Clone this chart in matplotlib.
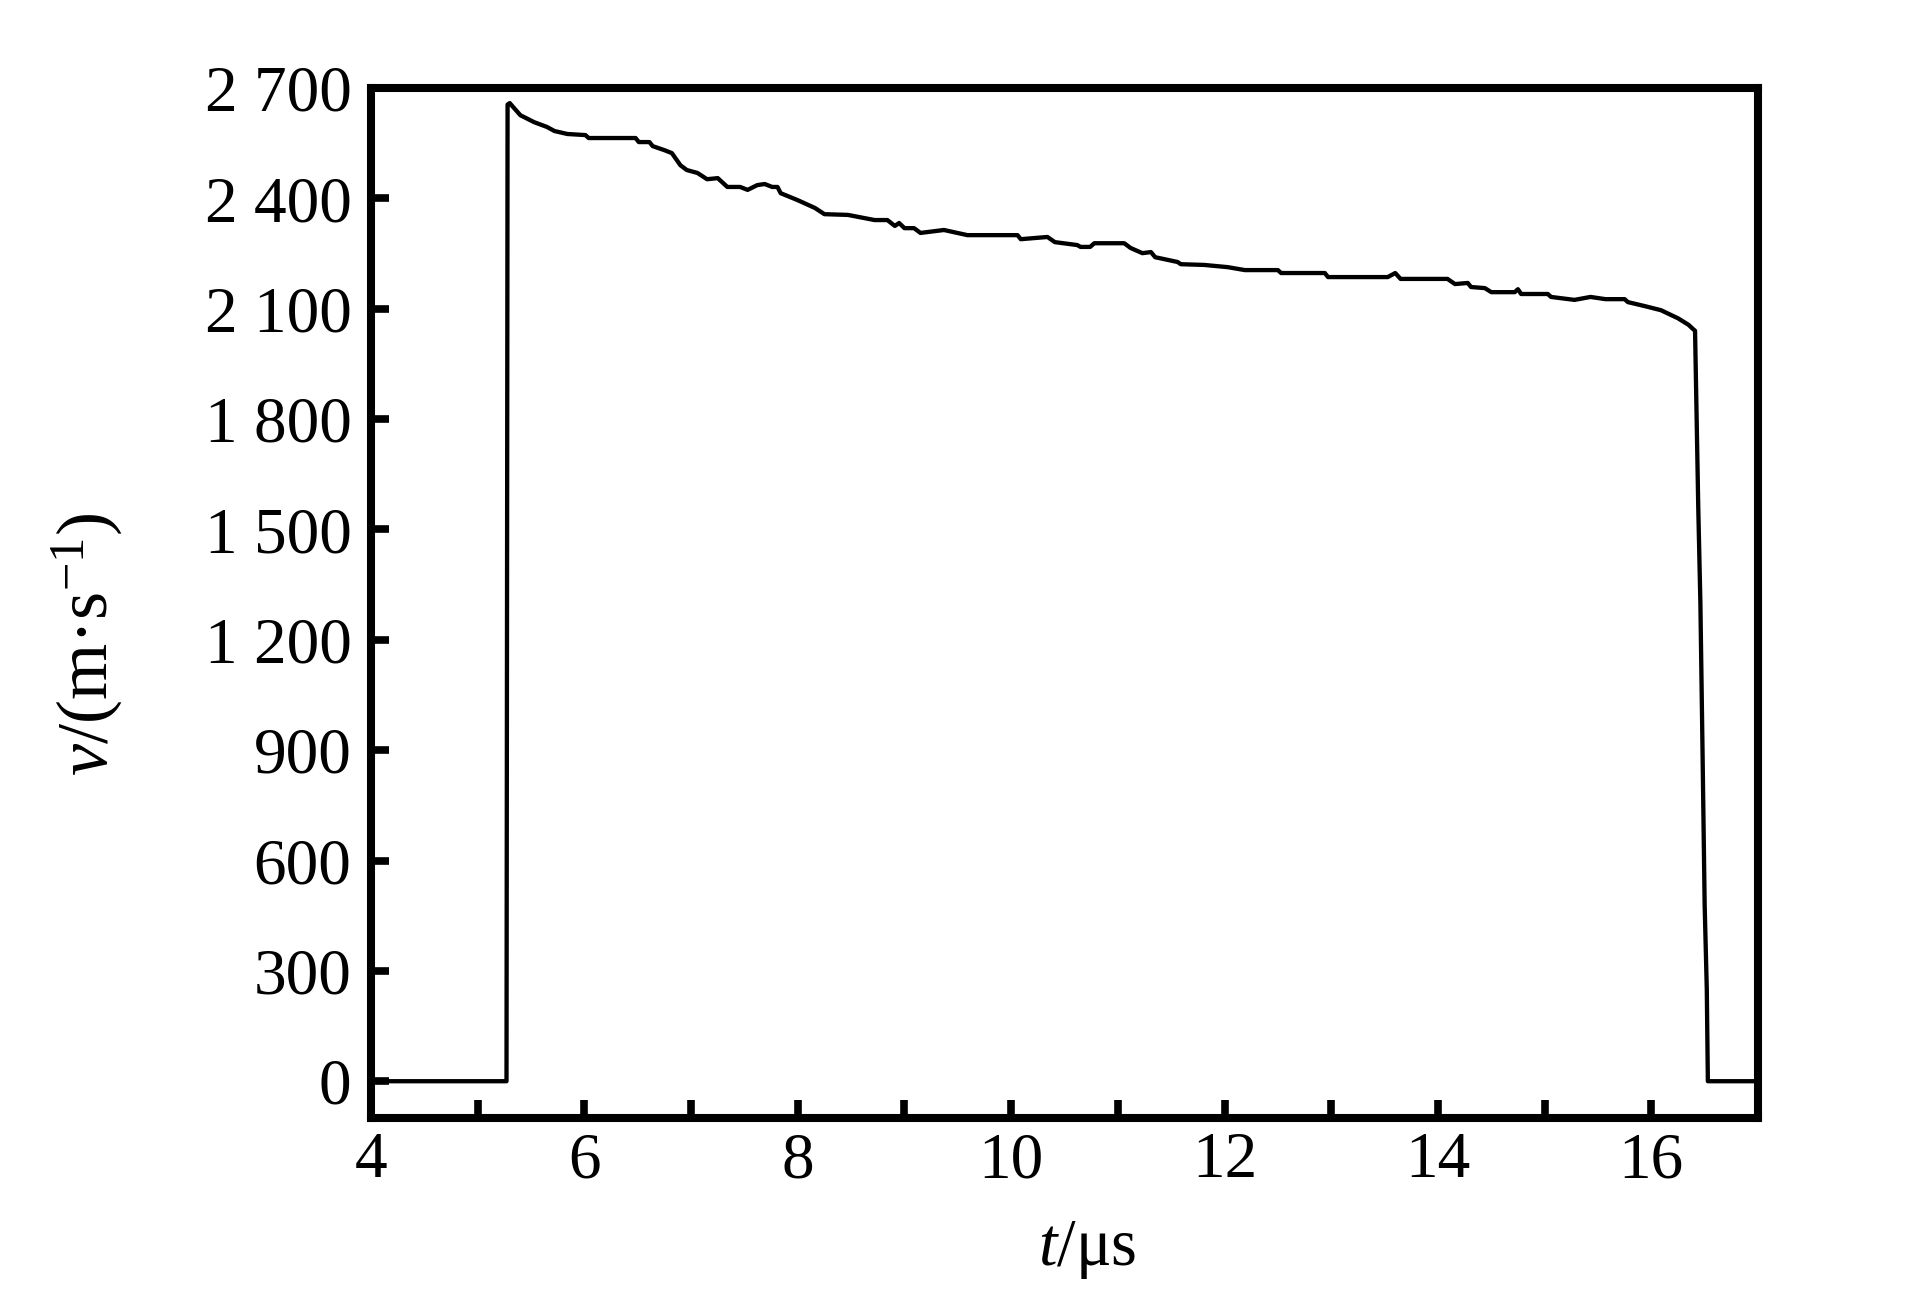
import numpy as np
import matplotlib.pyplot as plt
from matplotlib.ticker import MultipleLocator

plt.rcParams['font.family'] = 'Liberation Serif'
plt.rcParams['mathtext.fontset'] = 'custom'
plt.rcParams['mathtext.rm'] = 'Liberation Serif'
plt.rcParams['mathtext.it'] = 'Liberation Serif:italic'

# velocity trace: t in us, v in m/s
t = [4.00, 5.27, 5.28, 5.30, 5.40, 5.53, 5.65, 5.72, 5.84, 6.01, 6.04, 6.48, 6.51,
     6.61, 6.64, 6.75, 6.82, 6.90, 6.96, 7.06, 7.15, 7.25, 7.34, 7.46, 7.53, 7.62,
     7.69, 7.76, 7.81, 7.84, 8.00, 8.16, 8.25, 8.47, 8.72, 8.84, 8.91, 8.95, 9.00,
     9.09, 9.15, 9.37, 9.59, 10.06, 10.09, 10.34, 10.41, 10.62, 10.65, 10.74, 10.78,
     11.06, 11.12, 11.23, 11.31, 11.35, 11.56, 11.59, 11.81, 12.03, 12.19, 12.50,
     12.53, 12.94, 12.97, 13.53, 13.60, 13.65, 14.09, 14.16, 14.28, 14.31, 14.44,
     14.50, 14.72, 14.75, 14.78, 15.03, 15.06, 15.28, 15.43, 15.57, 15.75, 15.78,
     15.94, 16.09, 16.25, 16.35, 16.39, 16.41, 16.44, 16.46, 16.48, 16.50, 16.52,
     16.53, 17.00]
v = [0, 0, 2655, 2659, 2626, 2607, 2594, 2583, 2575, 2572, 2564, 2564, 2553,
     2553, 2542, 2531, 2523, 2490, 2477, 2469, 2452, 2455, 2431, 2431, 2423, 2436,
     2439, 2431, 2431, 2414, 2395, 2374, 2357, 2355, 2341, 2341, 2325, 2333, 2319,
     2319, 2306, 2314, 2300, 2300, 2289, 2295, 2281, 2273, 2268, 2268, 2278,
     2278, 2265, 2251, 2254, 2240, 2227, 2221, 2219, 2213, 2205, 2205,
     2197, 2197, 2186, 2186, 2197, 2181, 2181, 2167, 2170, 2159, 2156,
     2145, 2145, 2153, 2140, 2140, 2132, 2124, 2132, 2126, 2126, 2118,
     2107, 2096, 2074, 2056, 2045, 2040, 1560, 1300, 900, 480, 250,
     0, 0]

fig = plt.figure(figsize=(19.23, 12.99), dpi=100)
ax = fig.add_axes([371/1923, 1 - 1118/1299, (1758 - 371)/1923, (1118 - 88)/1299])

ax.plot(t, v, color='black', lw=3.1)

ax.set_xlim(4, 17)
ax.set_ylim(-100, 2700)
ax.xaxis.set_major_locator(MultipleLocator(2))
ax.xaxis.set_minor_locator(MultipleLocator(1))
ax.set_yticks(np.arange(0, 2701, 300))
ax.set_yticklabels(['0', '300', '600', '900', '1 200', '1 500', '1 800',
                    '2 100', '2 400', '2 700'])

for s in ax.spines.values():
    s.set_linewidth(5.8)
ax.tick_params(which='both', direction='in', length=13, width=5.5,
               labelsize=47, top=False, right=False)
ax.tick_params(axis='x', pad=10)
ax.tick_params(axis='y', pad=14)

ax.set_xlabel(r'$t$/μs', fontsize=48)
ax.set_ylabel(r'$v$/(m·s$^{-1}$)', fontsize=52)
ax.xaxis.set_label_coords(0.516, -0.098)
ax.yaxis.set_label_coords(-0.178, 0.46)

fig.savefig('out.png', dpi=100)
